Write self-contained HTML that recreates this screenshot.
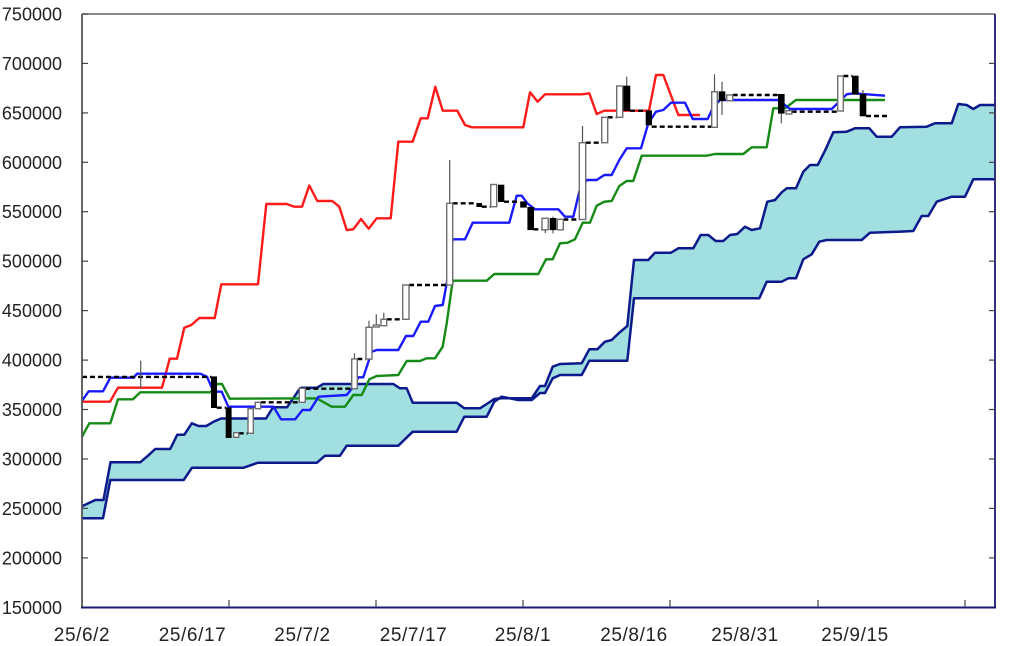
<!DOCTYPE html>
<html>
<head>
<meta charset="utf-8">
<style>
html,body{margin:0;padding:0;background:#fff;}
svg{display:block;}
text{font-family:"Liberation Sans",sans-serif;font-size:18px;fill:#222;}
.xl{font-size:19px;letter-spacing:0.6px;}
</style>
</head>
<body>
<svg width="1024" height="646" viewBox="0 0 1024 646" xmlns="http://www.w3.org/2000/svg">
<rect x="0" y="0" width="1024" height="646" fill="#fff"/>

<!-- cloud fill -->
<polygon fill="#a2dfe0" stroke="none" points="
82,506.3 95.3,500 103.5,500 110.5,462.3 140.2,462.3 148,455.7 155.2,449 170.2,449 177.3,434.7 184.3,434.7 191.8,423.3 198.5,426 206.3,426 213.7,421.7 221,418.5 266,418.5 273,407.3 287,407.3 300,388.3 302,387.7 317,387.7 323.3,384 393.3,384 400,388.3 406.7,388.3 412.7,402.7 456.7,402.7 464.3,408.3 480,408.3 486.7,404 494.3,399 501.7,398.3 531.7,398.3 540,386 545,386 552.7,366.7 560,364 581.7,363.3 589.3,349.3 597.3,349.3 605,341.7 611.7,340 619.3,332.7 627.3,326 634,260 648.3,260 655,252.7 671,252.7 678.3,248.3 693.3,248.3 700.7,235 708.3,235 715.7,241 723.3,241 730,235 737.3,234 745,226.7 751.7,230 760,228.3 767.3,201.7 775,200 781.7,192.3 786.7,188.3 796,188.3 803.3,171.7 810,165 817.7,165 825,150.7 833.3,132.3 846.7,131.7 855,128.3 869.3,128.3 876.7,136.7 891.7,136.7 900,127.3 926.7,126.7 935,123.3 951.7,123.3 958.3,104 966.7,105 973.3,109 980,105 994,105
994,179.3 973.3,179.3 965,196.7 951.7,196.7 936.7,201.7 928.3,216 921.7,216 913.3,231 898.3,231.7 870,232.7 861.7,240 826.7,240 819.3,241.7 811.7,254.3 803.3,259.3 796,278.3 788.3,278.3 781.7,281.7 766.7,281.7 759.3,298.3 634,298.3 627.3,360.7 589.3,360.7 581.7,375 560,375 552.7,378.3 545,393 540,393 531.7,400 518.3,400 501.7,396.7 494.3,401.7 486.7,416.7 464.3,416.7 456.7,431.7 412.7,431.7 398.3,445.7 346.7,445.7 340,455.7 325,455.7 317,462.7 258,462.7 243.7,467.7 192,467.7 183.7,480 110.3,480 103,518.3 82,518.3"/>

<!-- senkou A -->
<polyline fill="none" stroke="#0c1a8c" stroke-width="2.5" stroke-linejoin="round" points="82,506.3 95.3,500 103.5,500 110.5,462.3 140.2,462.3 148,455.7 155.2,449 170.2,449 177.3,434.7 184.3,434.7 191.8,423.3 198.5,426 206.3,426 213.7,421.7 221,418.5 266,418.5 273,407.3 287,407.3 300,388.3 302,387.7 317,387.7 323.3,384 393.3,384 400,388.3 406.7,388.3 412.7,402.7 456.7,402.7 464.3,408.3 480,408.3 486.7,404 494.3,399 501.7,398.3 531.7,398.3 540,386 545,386 552.7,366.7 560,364 581.7,363.3 589.3,349.3 597.3,349.3 605,341.7 611.7,340 619.3,332.7 627.3,326 634,260 648.3,260 655,252.7 671,252.7 678.3,248.3 693.3,248.3 700.7,235 708.3,235 715.7,241 723.3,241 730,235 737.3,234 745,226.7 751.7,230 760,228.3 767.3,201.7 775,200 781.7,192.3 786.7,188.3 796,188.3 803.3,171.7 810,165 817.7,165 825,150.7 833.3,132.3 846.7,131.7 855,128.3 869.3,128.3 876.7,136.7 891.7,136.7 900,127.3 926.7,126.7 935,123.3 951.7,123.3 958.3,104 966.7,105 973.3,109 980,105 994,105"/>
<!-- senkou B -->
<polyline fill="none" stroke="#0c1a8c" stroke-width="2.5" stroke-linejoin="round" points="82,518.3 103,518.3 110.3,480 183.7,480 192,467.7 243.7,467.7 258,462.7 317,462.7 325,455.7 340,455.7 346.7,445.7 398.3,445.7 412.7,431.7 456.7,431.7 464.3,416.7 486.7,416.7 494.3,401.7 501.7,396.7 518.3,400 531.7,400 540,393 545,393 552.7,378.3 560,375 581.7,375 589.3,360.7 627.3,360.7 634,298.3 759.3,298.3 766.7,281.7 781.7,281.7 788.3,278.3 796,278.3 803.3,259.3 811.7,254.3 819.3,241.7 826.7,240 861.7,240 870,232.7 898.3,231.7 913.3,231 921.7,216 928.3,216 936.7,201.7 951.7,196.7 965,196.7 973.3,179.3 994,179.3"/>

<!-- kijun (green) -->
<polyline fill="none" stroke="#168a16" stroke-width="2.4" stroke-linejoin="round" points="82,436.7 89.3,423.3 110.3,423.3 118,399.3 133,399.3 140.3,392.3 210.3,392.3 217,384 222,384 229.7,398.7 316.7,398.3 331.7,406.7 345,406.7 353.3,395 361.7,395 369.3,379.3 376.7,376 398.3,375 406.7,361 420,361 426.7,358.3 435,358.3 442.7,346.7 446.7,323.3 452.7,280.7 486.7,280.7 494.3,274 538.3,274 546,259.3 552.7,259.3 560,243.3 567.7,242.7 575,239.3 582.7,222.7 590,222.7 596.7,205.7 604.3,201.7 611.7,201 619.3,186 626.7,181 633.3,181 641.7,155.7 706.7,155.7 715,154 743.3,154 751.7,147.3 766.7,147.3 773.3,108.3 785,108.3 796,100 885,100"/>

<!-- red line -->
<polyline fill="none" stroke="#ff1a1a" stroke-width="2.4" stroke-linejoin="round" points="82,401.7 110,401.7 118,387.7 162,387.7 169.7,358.7 177,358.7 184.3,327.7 191.3,325 199.3,318 214.7,318 221.3,284.3 258,284.3 266.3,204 286.7,204 294.3,206.7 302,206.7 309.3,185.5 317.3,201 332.3,201 339.3,206.7 346.7,230 353.3,229.3 361,219 368.7,228.7 376.7,218.3 390.7,218.3 398.3,141.7 412.7,141.7 420.7,118.3 427.7,118.3 435.3,86.7 442.7,110.7 457.3,110.7 465,125 471.7,127.3 523.3,127.3 530,92.3 537.7,101.7 545,94.3 581.7,94.3 589.3,93.3 596.7,114 604.3,110.7 649,110.7 656,75 663.3,75 678.3,115 700,115"/>

<!-- tenkan (blue) -->
<polyline fill="none" stroke="#1a1aff" stroke-width="2.4" stroke-linejoin="round" points="82,400.7 88.7,391.3 103,391.3 110.3,377.7 133.7,377.7 137,373.7 200.3,373.7 207,376.7 213.5,391.7 221.7,391.7 228.3,406.7 266.7,406.7 273.5,406.7 281,419.3 295.2,419.3 302.5,410 310.2,410 318.5,396.7 346.7,395 353.3,386.7 358.3,377.3 363.3,377.3 371.7,351.7 376.7,350 398.3,350 406,336 413.3,336 420.7,321.7 428.3,321.7 435,306 442.7,305 446.7,283.3 452.7,239.3 465,239.3 472.7,222.7 509.3,222.7 516.7,195.7 521.7,195.7 527.3,203.3 535,209.3 558.3,209.3 565,216.7 573.3,216.7 579.3,191.7 586.7,180 596.7,180 604.3,175 611.7,175 619.3,160 626.7,148.3 641,148.3 648.3,123.3 656,111.7 663.3,110 671,102.7 685,102.7 692.7,119 707.7,119 713.3,106.7 720,100 778.3,100 790,109 831.7,109 846.7,94.3 853.3,93.3 885,95.7"/>

<!-- dashed close line -->
<g fill="none" stroke="#000" stroke-width="2.4" stroke-dasharray="5 3">
<polyline points="82,376.9 211.3,376.9"/>
<polyline points="216.7,407.7 226,407.7"/>
<polyline points="238.7,433.3 248,433.3"/>
<polyline points="260.7,402.3 299.3,402.3"/>
<polyline points="305.3,388.7 351.7,388.7"/>
<polyline points="357.3,359 366,359"/>
<polyline points="386.7,319.3 402.7,319.3"/>
<polyline points="409,285 446.7,285"/>
<polyline points="452.7,203.3 476.7,203.3"/>
<polyline points="481.7,206.7 490.7,206.7"/>
<polyline points="504,201.7 520,201.7"/>
<polyline points="533.3,229.3 542.3,229.3"/>
<polyline points="563.3,219.5 579.3,219.5"/>
<polyline points="585.7,142.7 601.7,142.7"/>
<polyline points="607.7,117.3 616.7,117.3"/>
<polyline points="630,110.7 646,110.7"/>
<polyline points="651.7,126.7 711.7,126.7"/>
<polyline points="732.7,95 778.3,95"/>
<polyline points="791.7,111.7 837.7,111.7"/>
<polyline points="843.3,76 852.3,76"/>
<polyline points="866,116 888,116"/>
</g>

<!-- wicks -->
<g stroke="#555" stroke-width="1.2">
<line x1="140.7" y1="360.7" x2="140.7" y2="388.3"/>
<line x1="354.5" y1="353.3" x2="354.5" y2="359"/>
<line x1="369" y1="320.7" x2="369" y2="327.3"/>
<line x1="376.3" y1="314.3" x2="376.3" y2="325"/>
<line x1="383.8" y1="312.7" x2="383.8" y2="319.3"/>
<line x1="449.7" y1="160" x2="449.7" y2="203.3"/>
<line x1="545.3" y1="229.3" x2="545.3" y2="233"/>
<line x1="553" y1="216.7" x2="553" y2="233.3"/>
<line x1="582.5" y1="126" x2="582.5" y2="142.7"/>
<line x1="626.7" y1="76.7" x2="626.7" y2="86"/>
<line x1="714.5" y1="74.3" x2="714.5" y2="91.7"/>
<line x1="722" y1="81.7" x2="722" y2="115"/>
<line x1="781.3" y1="113.3" x2="781.3" y2="123.3"/>
<line x1="863" y1="90" x2="863" y2="94.3"/>
</g>

<!-- black candles -->
<g fill="#000" stroke="#000" stroke-width="0.6">
<rect x="211.3" y="376.7" width="5.4" height="31"/>
<rect x="226" y="407.7" width="5.3" height="30"/>
<rect x="476.7" y="203.3" width="5" height="3.4"/>
<rect x="498.3" y="185" width="5.7" height="16.7"/>
<rect x="520.5" y="201.7" width="6" height="5.6"/>
<rect x="527.7" y="207.3" width="6" height="22.5"/>
<rect x="550" y="218.3" width="6" height="11.5"/>
<rect x="623.3" y="86" width="6.7" height="24.7"/>
<rect x="646" y="110.7" width="5.7" height="14.3"/>
<rect x="719" y="91.7" width="6" height="9"/>
<rect x="778.3" y="94.3" width="6" height="19"/>
<rect x="852.3" y="76" width="6" height="18.3"/>
<rect x="860" y="94.3" width="6" height="21.7"/>
</g>

<!-- white candles -->
<g fill="#fff" stroke="#6e6e6e" stroke-width="1.4">
<rect x="233.7" y="432.7" width="5" height="4.6"/>
<rect x="248" y="408.7" width="5.3" height="24.6"/>
<rect x="255.3" y="402.3" width="5.4" height="6.4"/>
<rect x="299.3" y="388.3" width="6" height="14"/>
<rect x="351.7" y="359" width="5.6" height="29.7"/>
<rect x="366" y="327.3" width="6" height="31.7"/>
<rect x="373.3" y="325" width="6" height="2"/>
<rect x="381" y="319.3" width="5.7" height="6.4"/>
<rect x="402.7" y="285" width="6.3" height="34.3"/>
<rect x="446.7" y="203.3" width="6" height="81.7"/>
<rect x="490.7" y="184.5" width="6" height="22.2"/>
<rect x="542" y="218.3" width="6.2" height="11.5"/>
<rect x="557.3" y="219.3" width="6" height="10.5"/>
<rect x="579.3" y="142.7" width="6.4" height="76.8"/>
<rect x="601.7" y="117.3" width="6" height="25.4"/>
<rect x="616.7" y="86" width="6" height="31.3"/>
<rect x="711.7" y="91.7" width="5.6" height="35.6"/>
<rect x="726.7" y="95" width="6" height="5.7"/>
<rect x="786" y="110.7" width="5.7" height="3.3"/>
<rect x="837.7" y="76" width="5.6" height="35"/>
</g>

<!-- axes -->
<line x1="82" y1="14" x2="995" y2="14" stroke="#666" stroke-width="1.5"/>
<line x1="82" y1="14" x2="82" y2="607.3" stroke="#555" stroke-width="1.8"/>
<line x1="995" y1="14" x2="995" y2="607.3" stroke="#1a1a6e" stroke-width="1.8"/>
<line x1="81" y1="607.5" x2="996" y2="607.5" stroke="#1a1a6e" stroke-width="2"/>

<g stroke="#444" stroke-width="1.2">
<line x1="82" y1="14" x2="88" y2="14"/>
<line x1="82" y1="63.4" x2="88" y2="63.4"/>
<line x1="82" y1="112.9" x2="88" y2="112.9"/>
<line x1="82" y1="162.3" x2="88" y2="162.3"/>
<line x1="82" y1="211.7" x2="88" y2="211.7"/>
<line x1="82" y1="261.2" x2="88" y2="261.2"/>
<line x1="82" y1="310.6" x2="88" y2="310.6"/>
<line x1="82" y1="360.1" x2="88" y2="360.1"/>
<line x1="82" y1="409.5" x2="88" y2="409.5"/>
<line x1="82" y1="459" x2="88" y2="459"/>
<line x1="82" y1="508.4" x2="88" y2="508.4"/>
<line x1="82" y1="557.9" x2="88" y2="557.9"/>
<line x1="989" y1="63.4" x2="995" y2="63.4"/>
<line x1="989" y1="112.9" x2="995" y2="112.9"/>
<line x1="989" y1="162.3" x2="995" y2="162.3"/>
<line x1="989" y1="211.7" x2="995" y2="211.7"/>
<line x1="989" y1="261.2" x2="995" y2="261.2"/>
<line x1="989" y1="310.6" x2="995" y2="310.6"/>
<line x1="989" y1="360.1" x2="995" y2="360.1"/>
<line x1="989" y1="409.5" x2="995" y2="409.5"/>
<line x1="989" y1="459" x2="995" y2="459"/>
<line x1="989" y1="508.4" x2="995" y2="508.4"/>
<line x1="989" y1="557.9" x2="995" y2="557.9"/>
<line x1="229" y1="600" x2="229" y2="607"/>
<line x1="376" y1="600" x2="376" y2="607"/>
<line x1="523" y1="600" x2="523" y2="607"/>
<line x1="670" y1="600" x2="670" y2="607"/>
<line x1="818" y1="600" x2="818" y2="607"/>
<line x1="965" y1="600" x2="965" y2="607"/>
</g>

<!-- y labels -->
<g text-anchor="end">
<text x="62" y="20.5">750000</text>
<text x="62" y="69.9">700000</text>
<text x="62" y="119.4">650000</text>
<text x="62" y="168.8">600000</text>
<text x="62" y="218.2">550000</text>
<text x="62" y="267.7">500000</text>
<text x="62" y="317.1">450000</text>
<text x="62" y="366.6">400000</text>
<text x="62" y="416">350000</text>
<text x="62" y="465.5">300000</text>
<text x="62" y="514.9">250000</text>
<text x="62" y="564.4">200000</text>
<text x="62" y="613.8">150000</text>
</g>

<!-- x labels -->
<g text-anchor="middle" class="xl">
<text class="xl" x="82" y="641">25/6/2</text>
<text class="xl" x="192.5" y="641">25/6/17</text>
<text class="xl" x="302.5" y="641">25/7/2</text>
<text class="xl" x="413.5" y="641">25/7/17</text>
<text class="xl" x="523" y="641">25/8/1</text>
<text class="xl" x="634" y="641">25/8/16</text>
<text class="xl" x="745" y="641">25/8/31</text>
<text class="xl" x="855" y="641">25/9/15</text>
</g>
</svg>
</body>
</html>
